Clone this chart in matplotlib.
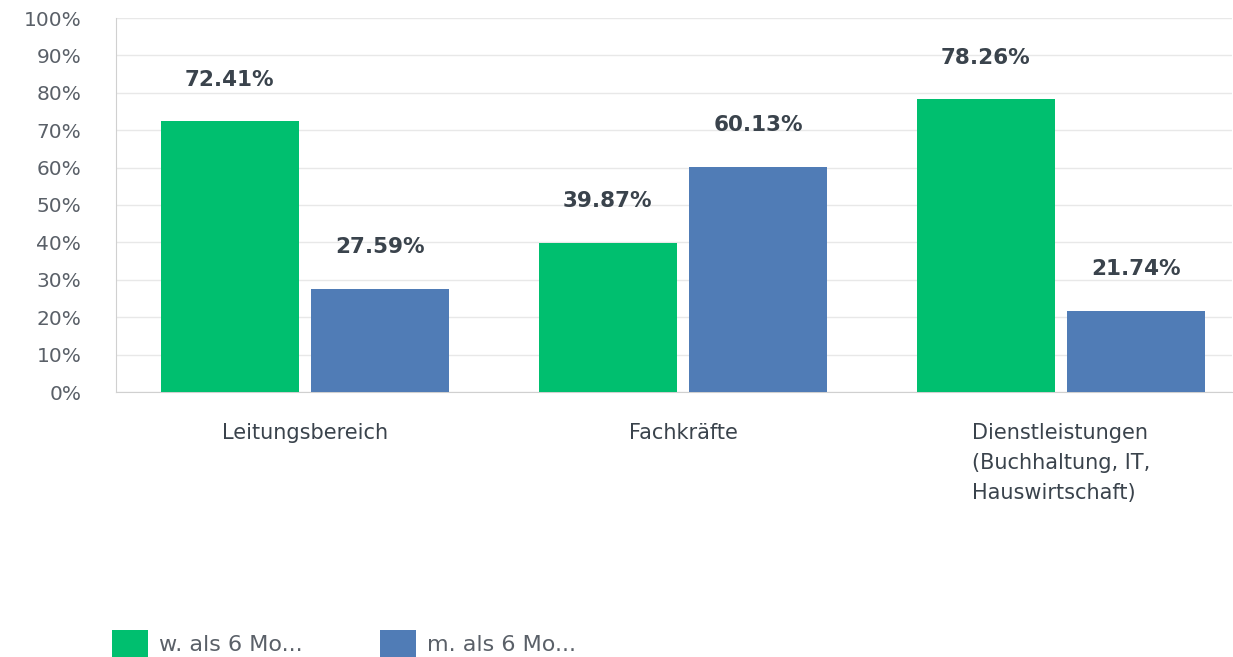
import matplotlib.pyplot as plt
import numpy as np

categories = ['Leitungsbereich', 'Fachkräfte',
              'Dienstleistungen\n(Buchhaltung, IT,\nHauswirtschaft)']
series_names = ['w. als 6 Mo...', 'm. als 6 Mo...']
w_values = [72.41, 39.87, 78.26]
m_values = [27.59, 60.13, 21.74]
y_ticks = list(range(0, 101, 10))

green = '#00bf6f'
blue = '#507cb6'
text_col = '#3a434c'
tick_col = '#5a6068'

fig = plt.figure(figsize=(12.33, 6.57), dpi=100)
ax = fig.add_axes([116 / 1233, 1 - 392 / 657, (1232 - 116) / 1233, (392 - 18) / 657])

x = np.arange(len(categories))
bw = 0.365
off = 0.199
b1 = ax.bar(x - off, w_values, bw, color=green, label=series_names[0], zorder=3)
b2 = ax.bar(x + off, m_values, bw, color=blue, label=series_names[1], zorder=3)

# value labels above each bar
for bars, vals in ((b1, w_values), (b2, m_values)):
    for b, v in zip(bars, vals):
        ax.annotate('{:.2f}%'.format(v), (b.get_x() + b.get_width() / 2, v),
                    xytext=(0, 30), textcoords='offset points',
                    ha='center', va='center', fontsize=15.5, fontweight='bold',
                    color=text_col)

ax.set_xlim(-0.5, 2.452)
ax.set_ylim(0, 100)
ax.set_yticks(y_ticks)
ax.set_yticklabels(['{}%'.format(t) for t in y_ticks])
ax.set_xticks(x)
ax.set_xticklabels(categories, multialignment='left', linespacing=1.65)
ax.tick_params(axis='y', length=0, pad=25, labelsize=14.5, labelcolor=tick_col)
ax.tick_params(axis='x', length=0, pad=22, labelsize=15, labelcolor=text_col)

ax.grid(axis='y', color='#e8e8e8', linewidth=1, zorder=0)
for s in ('top', 'right'):
    ax.spines[s].set_visible(False)
ax.spines['left'].set_color('#d0d0d0')
ax.spines['bottom'].set_color('#d0d0d0')

fig.legend(handles=[b1, b2], loc='lower left', bbox_to_anchor=(92 / 1233, -0.03),
           ncol=2, frameon=False, fontsize=16, handlelength=1.6, handleheight=1.45,
           columnspacing=3.5, handletextpad=0.5, labelcolor=tick_col)

fig.savefig('out.png', dpi=100)
